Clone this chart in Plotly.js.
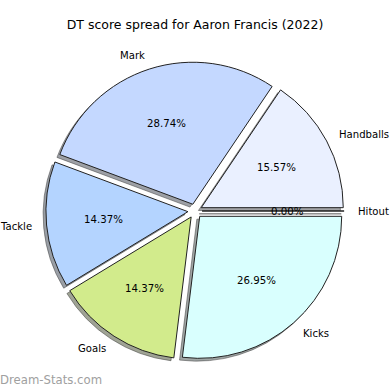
<!DOCTYPE html>
<html><head><meta charset="utf-8">
<script src="https://cdn.plot.ly/plotly-3.0.1.min.js"></script>
<style>html,body{margin:0;padding:0;background:#fff}#chart{width:390px;height:390px}</style>
</head><body><div id="chart"></div>
<script>
const labels = ["Hitout", "Handballs", "Mark", "Tackle", "Goals", "Kicks"];
const values = [0, 26, 48, 24, 24, 45];
const colors = ["#ffe0e0", "#eaf0ff", "#c4d8ff", "#b4d4ff", "#d2eb8c", "#d9fffe"];
const title = "DT score spread for Aaron Francis (2022)";
const watermark = "Dream-Stats.com";

const W = 390, H = 390;
const CX = 195, CY = 211, R = 142, PULL = 0.05;
const half = R * (1 + PULL);
const dom = {x: [(CX - half) / W, (CX + half) / W], y: [1 - (CY + half) / H, 1 - (CY - half) / H]};
const SH = 0.02 * R;
const shDom = {x: [dom.x[0] - SH / W, dom.x[1] - SH / W], y: [dom.y[0] - SH / H, dom.y[1] - SH / H]};

function hexToRgb(h){return [parseInt(h.slice(1,3),16),parseInt(h.slice(3,5),16),parseInt(h.slice(5,7),16)];}
const shadowColors = colors.map(c => { const [r,g,b] = hexToRgb(c); return `rgba(${Math.round(r*0.3)},${Math.round(g*0.3)},${Math.round(b*0.3)},0.5)`; });

const pulls = values.map(() => PULL);
const font = "DejaVu Sans, sans-serif";

const shadow = {type: "pie", labels, values, sort: false, direction: "counterclockwise", rotation: 90,
  pull: pulls, domain: shDom, marker: {colors: shadowColors, line: {color: "rgba(60,60,60,0.5)", width: 1}}, textinfo: "none",
  hoverinfo: "skip", showlegend: false};
const pie = {type: "pie", labels, values, sort: false, direction: "counterclockwise", rotation: 90,
  pull: pulls, domain: dom, marker: {colors, line: {color: "#222", width: 1}}, textinfo: "none",
  hoverinfo: "label+percent", showlegend: false};

const total = values.reduce((a, b) => a + b, 0);
const annotations = [];
let cum = 0;
values.forEach((v, i) => {
  const a = (cum + v / 2) / total * 2 * Math.PI;
  cum += v;
  const c = Math.cos(a), s = Math.sin(a);
  const lr = R * (PULL + 1.1), pr = R * (PULL + 0.6);
  annotations.push({xref: "paper", yref: "paper", x: (CX + lr * c) / W, y: 1 - (CY - lr * s) / H,
    text: labels[i], showarrow: false, xanchor: c > 0 ? "left" : "right", yanchor: "middle",
    xshift: c > 0 ? -2 : 2, font: {family: font, size: 10.1, color: "#000"}});
  annotations.push({xref: "paper", yref: "paper", x: (CX + pr * c) / W, y: 1 - (CY - pr * s) / H,
    text: (v / total * 100).toFixed(2) + "%", showarrow: false, xanchor: "center", yanchor: "middle",
    font: {family: font, size: 10.2, color: "#000"}});
});
annotations.push({xref: "paper", yref: "paper", x: 0, y: 1 - 380 / H, xanchor: "left", yanchor: "middle",
  text: watermark, showarrow: false, xshift: -2, font: {family: font, size: 11.7, color: "#a0a0a0"}});

const layout = {width: W, height: H, margin: {l: 0, r: 0, t: 0, b: 0}, paper_bgcolor: "#fff",
  title: {text: title, x: 0.5, xanchor: "center", y: 1 - 25 / H, yref: "container", yanchor: "middle",
    font: {family: font, size: 12.5, color: "#000"}},
  annotations, showlegend: false};
Plotly.newPlot("chart", [shadow, pie], layout, {displayModeBar: false, staticPlot: true});
</script></body></html>
